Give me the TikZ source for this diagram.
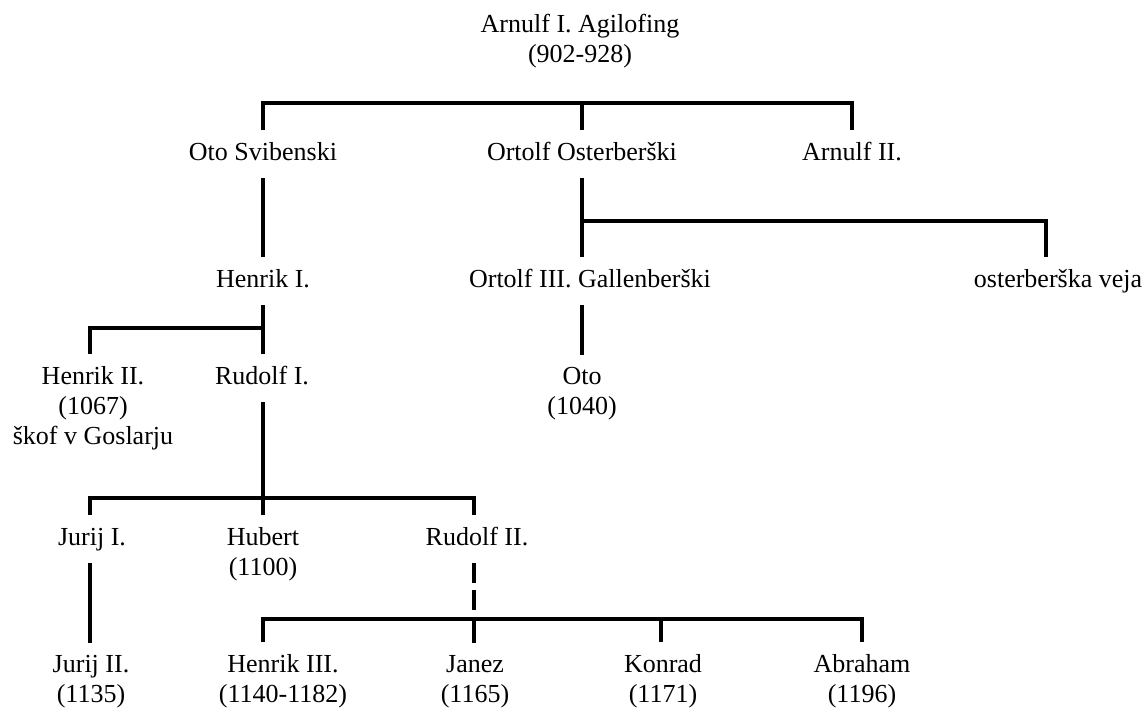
\documentclass[tikz,border=0pt]{standalone}
\usepackage{fontspec}
\setmainfont{Liberation Serif}
\begin{document}
\begin{tikzpicture}[x=1pt,y=-1pt,
  person/.style={font=\fontsize{26}{30}\selectfont, inner xsep=2pt, inner ysep=12pt, anchor=base},
  single/.style={person, text height=18pt, text depth=6pt},
  multi/.style={person, align=center},
  link/.style={line width=3.1pt, line join=miter}]
\useasboundingbox[fill=white] (0,0) rectangle (1148,712);
% people (multi-line nodes are placed by the baseline of their last line)
\node[multi] (arnulf) at (580,62) {Arnulf I. Agilofing\\(902-928)};
\node[single] (osv) at (263,160) {Oto Svibenski};
\node[single] (ortolf) at (582,160) {Ortolf Osterberški};
\node[single] (arnulf2) at (852,160) {Arnulf II.};
\node[single] (henrik1) at (263,287) {Henrik I.};
\node[single] (ortolf3) at (590,287) {Ortolf III. Gallenberški};
\node[single] (veja) at (1058,287) {osterberška veja};
\node[multi] (henrik2) at (93,444) {Henrik II.\\(1067)\\škof v Goslarju};
\node[single] (rudolf1) at (262,384) {Rudolf I.};
\node[multi] (oto) at (582,414) {Oto\\(1040)};
\node[single] (jurij1) at (92,545) {Jurij I.};
\node[multi] (hubert) at (263,575) {Hubert\\(1100)};
\node[single] (rudolf2) at (477,545) {Rudolf II.};
\node[multi] (jurij2) at (91,702) {Jurij II.\\(1135)};
\node[multi] (henrik3) at (283,702) {Henrik III.\\(1140-1182)};
\node[multi] (janez) at (475,702) {Janez\\(1165)};
\node[multi] (konrad) at (663,702) {Konrad\\(1171)};
\node[multi] (abraham) at (862,702) {Abraham\\(1196)};
% junctions
\coordinate (t1) at (263,103);
\coordinate (t2) at (582,103);
\coordinate (t3) at (852,103);
\coordinate (o1) at (582,221);
\coordinate (o2) at (1046,221);
\coordinate (h1) at (263,328);
\coordinate (h2) at (90,328);
\coordinate (r1) at (263,498);
\coordinate (r2) at (90,498);
\coordinate (r3) at (474,498);
\coordinate (b1) at (263,619);
\coordinate (b2) at (474,619);
\coordinate (b3) at (661,619);
\coordinate (b4) at (862,619);
% connectors
\draw[link] (t1 |- osv.north) -- (t1) -- (t3) -- (t3 |- arnulf2.north);
\draw[link] (t2) -- (t2 |- ortolf.north);
\draw[link] (h1 |- osv.south) -- (h1 |- henrik1.north);
\draw[link] (o1 |- ortolf.south) -- (o1 |- ortolf3.north);
\draw[link] (o1) -- (o2) -- (o2 |- veja.north);
\draw[link] (h1 |- henrik1.south) -- (h1 |- rudolf1.north);
\draw[link] (h1) -- (h2) -- (h2 |- henrik2.north);
\draw[link] (o1 |- ortolf3.south) -- (o1 |- oto.north);
\draw[link] (r1 |- rudolf1.south) -- (r1 |- hubert.north);
\draw[link] (r2 |- jurij1.north) -- (r2) -- (r3) -- (r3 |- rudolf2.north);
\draw[link] (r2 |- jurij1.south) -- (r2 |- jurij2.north);
\draw[link, dash pattern=on 20pt off 7pt] (b2 |- rudolf2.south) -- (b2);
\draw[link] (b1 |- henrik3.north) -- (b1) -- (b4) -- (b4 |- abraham.north);
\draw[link] (b2) -- (b2 |- janez.north);
\draw[link] (b3) -- (b3 |- konrad.north);
\end{tikzpicture}
\end{document}
